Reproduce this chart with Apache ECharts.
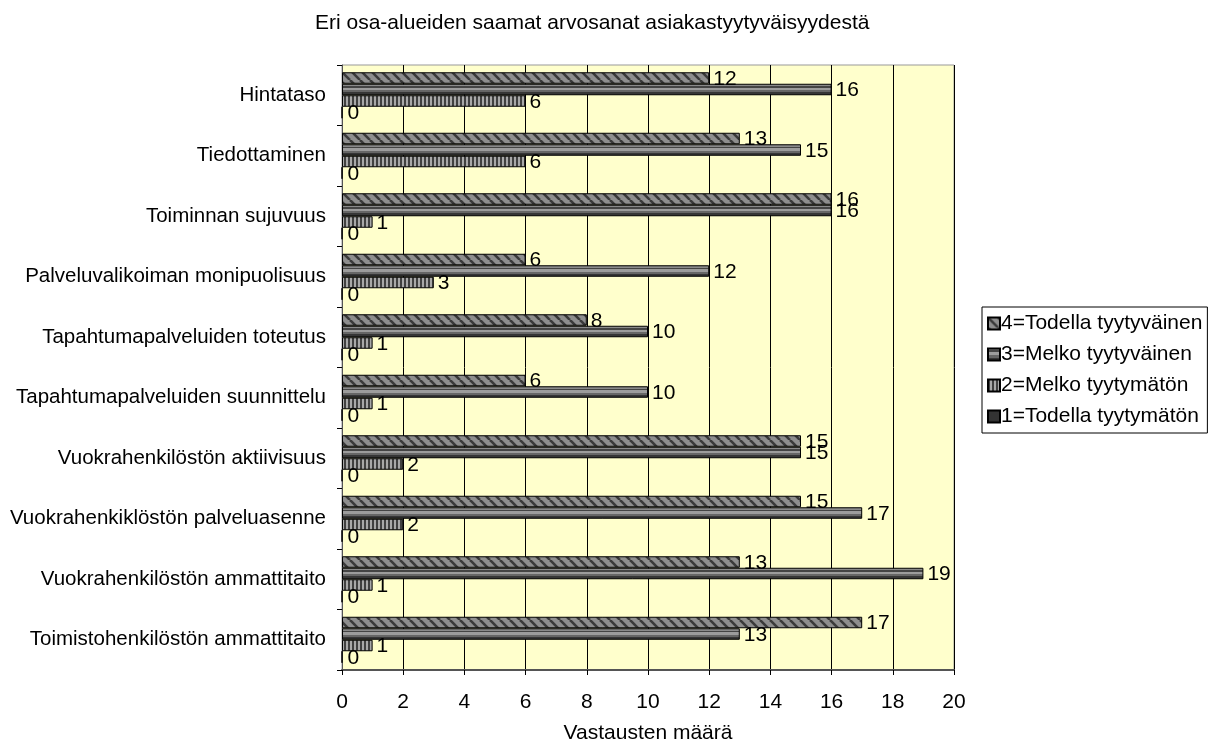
<!DOCTYPE html>
<html><head><meta charset="utf-8">
<script src="https://cdn.jsdelivr.net/npm/echarts@6/dist/echarts.min.js"></script>
<style>html,body{margin:0;padding:0;background:#fff}#c{width:1218px;height:747px}</style>
</head><body><div id="c"></div>
<script>
const categories = [
  "Toimistohenkilöstön ammattitaito",
  "Vuokrahenkilöstön ammattitaito",
  "Vuokrahenkiklöstön palveluasenne",
  "Vuokrahenkilöstön aktiivisuus",
  "Tapahtumapalveluiden suunnittelu",
  "Tapahtumapalveluiden toteutus",
  "Palveluvalikoiman monipuolisuus",
  "Toiminnan sujuvuus",
  "Tiedottaminen",
  "Hintataso"
];
const seriesNames = ["4=Todella tyytyväinen","3=Melko tyytyväinen","2=Melko tyytymätön","1=Todella tyytymätön"];
const s4 = [17,13,15,15,6,8,6,16,13,12];
const s3 = [13,19,17,15,10,10,12,16,15,16];
const s2 = [1,1,2,2,1,1,3,1,6,6];
const s1 = [0,0,0,0,0,0,0,0,0,0];
const xTicks = [0,2,4,6,8,10,12,14,16,18,20];

function makeCanvas(w,h,draw){const c=document.createElement('canvas');c.width=w;c.height=h;draw(c.getContext('2d'));return c;}
const diag = makeCanvas(10,10,ctx=>{
  ctx.fillStyle='#8e8e8e';ctx.fillRect(0,0,10,10);
  ctx.strokeStyle='#3a3a3a';ctx.lineWidth=2.6;
  for(let o=-10;o<=10;o+=10){ctx.beginPath();ctx.moveTo(o,0);ctx.lineTo(o+10,10);ctx.stroke();}
});
const vert = makeCanvas(4,4,ctx=>{
  ctx.fillStyle='#a8a8a8';ctx.fillRect(0,0,4,4);
  ctx.fillStyle='#404040';ctx.fillRect(0,0,2,4);
});
const horiz = new echarts.graphic.LinearGradient(0,0,0,1,[
  {offset:0,color:'#8a8a8a'},{offset:0.2,color:'#8a8a8a'},
  {offset:0.2,color:'#444444'},{offset:0.35,color:'#444444'},
  {offset:0.35,color:'#9c9c9c'},{offset:0.55,color:'#9c9c9c'},
  {offset:0.55,color:'#666666'},{offset:0.75,color:'#666666'},
  {offset:0.75,color:'#363636'},{offset:1,color:'#363636'}
]);
const fills = [{image:diag,repeat:'repeat'},horiz,{image:vert,repeat:'repeat'},'#333333'];
const dataArr = [s4,s3,s2,s1];

const chart = echarts.init(document.getElementById('c'),null,{renderer:'canvas'});
const font = 'Liberation Sans, Arial, sans-serif';
const FS = 21;
chart.setOption({
  animation:false,
  textStyle:{fontFamily:font},
  title:{text:'Eri osa-alueiden saamat arvosanat asiakastyytyväisyydestä',left:310,top:8,
    textStyle:{fontSize:FS,fontWeight:'normal',color:'#000',fontFamily:font}},
  grid:{left:342,right:264,top:65,bottom:77,containLabel:false,outerBoundsMode:'none',
    show:true,backgroundColor:'#ffffcc',borderColor:'#999',borderWidth:1},
  legend:{data:seriesNames,orient:'vertical',left:982,top:307,
    itemWidth:12,itemHeight:12,itemGap:10,borderColor:'#000',borderWidth:1,padding:[6,5,6,5],
    textStyle:{fontSize:FS,color:'#000',fontFamily:font,padding:[0,0,0,-4]},
    icon:'rect'},
  xAxis:{type:'value',min:0,max:20,interval:2,
    name:'Vastausten määrä',nameLocation:'middle',nameGap:53,
    nameTextStyle:{fontSize:FS,color:'#000',fontFamily:font},
    axisLine:{show:true,lineStyle:{color:'#555',width:2}},
    axisTick:{show:true,length:5,inside:false,lineStyle:{color:'#000'}},
    axisLabel:{fontSize:FS,color:'#000',margin:22,fontFamily:font,
      formatter:v=>xTicks.includes(v)?String(v):''},
    splitLine:{show:true,lineStyle:{color:'#000',width:1}}},
  yAxis:{type:'category',data:categories,
    axisLine:{show:true,lineStyle:{color:'#555',width:1}},
    axisTick:{show:true,length:5,lineStyle:{color:'#000'}},
    axisLabel:{fontSize:20.5,color:'#000',margin:16,fontFamily:font},
    splitLine:{show:false}},
  series:dataArr.map((d,i)=>({
    name:seriesNames[i],type:'bar',data:d,barWidth:11.5,barGap:'0%',
    itemStyle:{color:fills[i],borderColor:'#000',borderWidth:1},
    label:{show:true,position:'right',distance:i===3?5:4,fontSize:FS,color:'#000',fontFamily:font,
      offset:[0,1]}
  }))
});
</script></body></html>
